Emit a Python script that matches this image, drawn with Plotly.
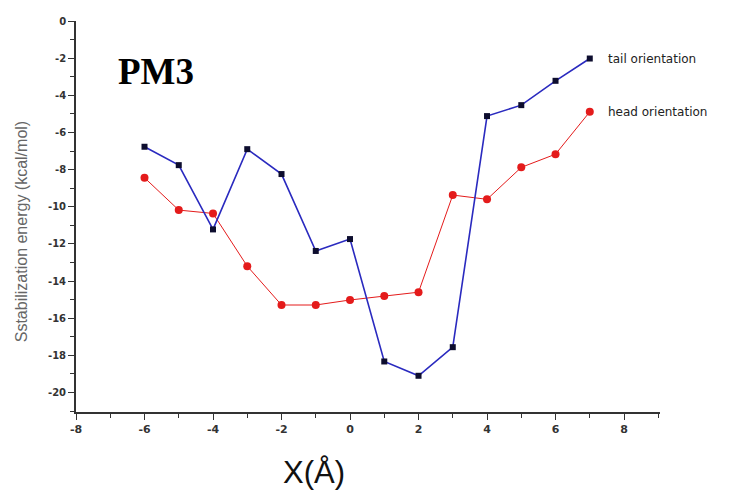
import plotly.graph_objects as go

x_vals = [-6, -5, -4, -3, -2, -1, 0, 1, 2, 3, 4, 5, 6, 7]
tail = [-6.77, -7.76, -11.22, -6.90, -8.24, -12.38, -11.74, -18.33, -19.1, -17.56, -5.12, -4.53, -3.22, -2.02]
head = [-8.44, -10.18, -10.36, -13.2, -15.29, -15.29, -15.02, -14.8, -14.6, -9.37, -9.6, -7.88, -7.17, -4.89]
series_names = ["tail orientation", "head orientation"]
x_ticks = [-8, -6, -4, -2, 0, 2, 4, 6, 8]
y_ticks = [0, -2, -4, -6, -8, -10, -12, -14, -16, -18, -20]

fig = go.Figure()
fig.add_trace(go.Scatter(
    x=x_vals, y=head, mode="lines+markers", name=series_names[1],
    line=dict(color="#e41b1b", width=1),
    marker=dict(symbol="circle", size=8, color="#e41b1b"),
))
fig.add_trace(go.Scatter(
    x=x_vals, y=tail, mode="lines+markers", name=series_names[0],
    line=dict(color="#2a2abf", width=1.6),
    marker=dict(symbol="square", size=6, color="#0d0d2e"),
))

fig.add_annotation(x=x_vals[-1], y=tail[-1], text=series_names[0], showarrow=False,
                   xanchor="left", xshift=16, font=dict(family="DejaVu Sans", size=12, color="#222"))
fig.add_annotation(x=x_vals[-1], y=head[-1], text=series_names[1], showarrow=False,
                   xanchor="left", xshift=16, font=dict(family="DejaVu Sans", size=12, color="#222"))
fig.add_annotation(x=0.069, y=0.872, xref="paper", yref="paper", text="<b>PM3</b>", showarrow=False,
                   xanchor="left", yanchor="middle",
                   font=dict(family="Liberation Serif, Times New Roman, serif", size=37, color="#000"))
fig.add_annotation(x=0.4075, y=-0.154, xref="paper", yref="paper", text="X(Å)", showarrow=False,
                   xanchor="center", yanchor="middle",
                   font=dict(family="Liberation Sans, Arial", size=31, color="#111"))
fig.add_annotation(x=-0.094, y=0.46, xref="paper", yref="paper", text="Sstabilization energy (kcal/mol)",
                   showarrow=False, textangle=-90, xanchor="center", yanchor="middle",
                   font=dict(family="Liberation Sans, Arial", size=16, color="#666"))

# page body has an 8px default margin; shift the figure up/left to compensate
fig.update_layout(
    width=737, height=487,
    margin=dict(l=68, r=85, t=13, b=83),
    paper_bgcolor="white", plot_bgcolor="white",
    showlegend=False,
    font=dict(family="Liberation Sans, Arial", color="#333"),
)
fig.update_xaxes(
    range=[-8, 9.05], tickvals=x_ticks, ticktext=[str(v) for v in x_ticks],
    showgrid=False, zeroline=False, showline=True, linecolor="#333", linewidth=1.8,
    ticks="outside", ticklen=6, tickwidth=1.3, tickcolor="#333",
    minor=dict(dtick=1, tick0=-8, ticks="outside", ticklen=4, tickcolor="#333", showgrid=False),
    tickfont=dict(size=11, color="#333", family="DejaVu Sans", weight="bold"),
    automargin=False,
)
fig.update_yaxes(
    range=[-21.05, 0], tickvals=y_ticks, ticktext=[str(v) for v in y_ticks],
    showgrid=False, zeroline=False, showline=True, linecolor="#333", linewidth=1.8,
    ticks="outside", ticklen=6, tickwidth=1.3, tickcolor="#333",
    minor=dict(dtick=1, tick0=0, ticks="outside", ticklen=4, tickcolor="#333", showgrid=False),
    tickfont=dict(size=10, color="#333", family="DejaVu Sans", weight="bold"),
    automargin=False,
)

fig.write_html("out.html")
